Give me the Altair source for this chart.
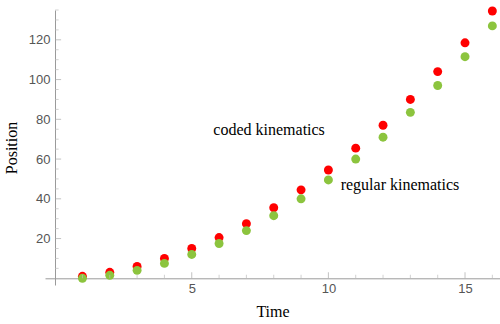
import altair as alt
import pandas as pd

# data
times = list(range(1, 17))
coded = [1, 3, 6, 10, 15, 20.5, 27.5, 35.5, 44.5, 54.5, 65.5, 77, 90, 104, 118.5, 134.5]
regular = [0, 1.5, 4, 7.5, 12, 17.5, 24, 31.5, 40, 49.5, 60, 71, 83.5, 97, 111.5, 127]

x_major = [5, 10, 15]
x_minor = [1, 2, 3, 4, 6, 7, 8, 9, 11, 12, 13, 14, 16]
y_major = [20, 40, 60, 80, 100, 120]
y_minor = [5, 10, 15, 25, 30, 35, 45, 50, 55, 65, 70, 75, 85, 90, 95, 105, 110, 115, 125, 130, 135]

label_text = ["coded kinematics", "regular kinematics"]
label_x = [7.83, 12.62]
label_y = [74.6, 47.0]

x_domain = [-0.37, 16.28]
y_domain = [-3.37, 135.0]

xs = alt.Scale(domain=x_domain, nice=False, zero=False)
ys = alt.Scale(domain=y_domain, nice=False, zero=False)

pts = pd.DataFrame({
    "time": times * 2,
    "pos": coded + regular,
    "series": ["coded"] * len(times) + ["regular"] * len(times),
    "order": [0] * len(times) + [1] * len(times),
})

axis_common = dict(
    ticks=False, tickSize=0, grid=False,
    domainColor="#9a9a9a", domainWidth=1,
    labelColor="#555555", labelFont="Liberation Sans", labelFontSize=13,
    titleFont="Liberation Serif", titleFontSize=16, titleFontWeight="normal",
    titleColor="black",
)
x_axis = alt.Axis(values=x_major, offset=-6.7, labelPadding=4,
                  title="Time", titlePadding=8, **axis_common)
y_axis = alt.Axis(values=y_major, offset=-10, labelPadding=5,
                  title="Position", titlePadding=9, **axis_common)

points = alt.Chart(pts).mark_circle(size=80, opacity=1).encode(
    x=alt.X("time:Q", scale=xs, axis=x_axis),
    y=alt.Y("pos:Q", scale=ys, axis=y_axis),
    color=alt.Color("series:N",
                    scale=alt.Scale(domain=["coded", "regular"], range=["#ff0000", "#8cc43e"]),
                    legend=None),
    order=alt.Order("order:Q"),
)

xt_major = alt.Chart(pd.DataFrame({"t": x_major})).mark_tick(
    orient="vertical", size=6, thickness=1, yOffset=-3, color="#a8a8a8"
).encode(x=alt.X("t:Q", scale=xs, axis=x_axis), y=alt.datum(0, scale=ys, axis=y_axis))

xt_minor = alt.Chart(pd.DataFrame({"t": x_minor})).mark_tick(
    orient="vertical", size=3.5, thickness=1, yOffset=-1.75, color="#bdbdbd"
).encode(x=alt.X("t:Q", scale=xs, axis=x_axis), y=alt.datum(0, scale=ys, axis=y_axis))

yt_major = alt.Chart(pd.DataFrame({"v": y_major})).mark_tick(
    orient="horizontal", size=6, thickness=1, xOffset=3, color="#a8a8a8"
).encode(y=alt.Y("v:Q", scale=ys, axis=y_axis), x=alt.datum(0, scale=xs, axis=x_axis))

yt_minor = alt.Chart(pd.DataFrame({"v": y_minor})).mark_tick(
    orient="horizontal", size=3.5, thickness=1, xOffset=1.75, color="#bdbdbd"
).encode(y=alt.Y("v:Q", scale=ys, axis=y_axis), x=alt.datum(0, scale=xs, axis=x_axis))

labels = alt.Chart(pd.DataFrame({"label": label_text, "x": label_x, "y": label_y})).mark_text(
    font="Liberation Serif", fontSize=16, align="center", baseline="middle", color="black"
).encode(
    x=alt.X("x:Q", scale=xs, axis=x_axis),
    y=alt.Y("y:Q", scale=ys, axis=y_axis),
    text="label:N",
)

chart = alt.layer(points, xt_major, xt_minor, yt_major, yt_minor, labels).properties(
    width=455, height=275,
    padding={"left": 45, "top": 10, "right": 0, "bottom": 39},
    autosize=alt.AutoSizeParams(type="none"),
    background="white",
).configure_view(stroke=None)

chart.save("out.html", embed_options={"renderer": "svg", "actions": False})
